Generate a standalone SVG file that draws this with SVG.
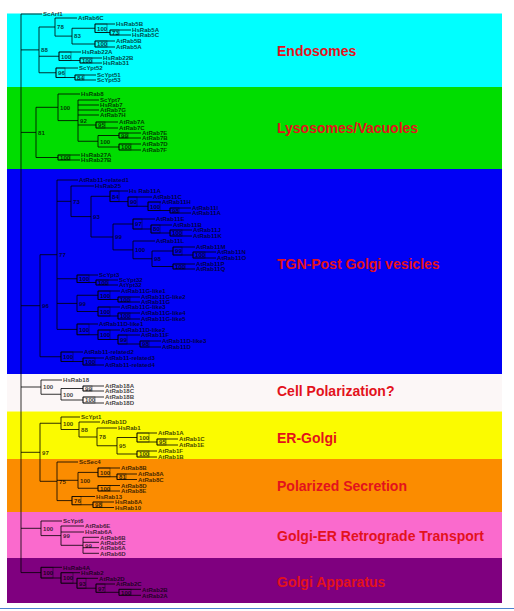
<svg xmlns="http://www.w3.org/2000/svg" width="514" height="611" viewBox="0 0 514 611">
<style>
.ln{fill:none;stroke:#000;stroke-opacity:0.8;stroke-width:1}
.bx{fill:none;stroke:#000;stroke-opacity:0.5;stroke-width:0.8}
.t{font-family:"Liberation Sans",Arial,sans-serif;font-size:6.1px;font-weight:bold;fill:#000;fill-opacity:0.75}
.b{font-family:"Liberation Sans",Arial,sans-serif;font-size:6.1px;font-weight:bold;fill:#000;fill-opacity:0.75}
.cat{font-family:"Liberation Sans",Arial,sans-serif;font-size:14px;font-weight:bold;fill:#e3121c}
</style>
<rect x="0" y="0" width="514" height="611" fill="#ffffff"/>
<g id="band-endosomes"><rect x="7" y="13.5" width="495" height="73.5" fill="#00ffff"/><text class="cat" x="277" y="56">Endosomes</text></g>
<g id="band-lysosomes"><rect x="7" y="87" width="495" height="82" fill="#00dd00"/><text class="cat" x="277" y="133">Lysosomes/Vacuoles</text></g>
<g id="band-tgn"><rect x="7" y="169" width="495" height="205" fill="#0000f5"/><text class="cat" x="277" y="269">TGN-Post Golgi vesicles</text></g>
<g id="band-polarization"><rect x="7" y="374" width="495" height="37.5" fill="#fcf7f7"/><text class="cat" x="277" y="396">Cell Polarization?</text></g>
<g id="band-ergolgi"><rect x="7" y="411.5" width="495" height="47.5" fill="#fbfb00"/><text class="cat" x="277" y="443">ER-Golgi</text></g>
<g id="band-secretion"><rect x="7" y="459" width="495" height="53" fill="#fb8c00"/><text class="cat" x="277" y="491">Polarized Secretion</text></g>
<g id="band-retrograde"><rect x="7" y="512" width="495" height="46" fill="#fa6acd"/><text class="cat" x="277" y="541">Golgi-ER Retrograde Transport</text></g>
<g id="band-golgi"><rect x="7" y="558" width="495" height="45" fill="#7f007f"/><text class="cat" x="277" y="587">Golgi Apparatus</text></g>
<line x1="0" y1="608.5" x2="514" y2="608.5" stroke="#4a7fd0" stroke-width="1"/>

<g id="connectors">
<path class="ln" d="M21 14V572.6M21 14H42M21 49.9H39M39 27V72.75M39 27H55M55 18V36.1M55 18H77M55 36.1H72M72 28.25V44M72 28.25H95M95 24V32.5M95 24H115M95 32.5H110M110 30V35M110 30H131M110 35H131M72 44H95M95 41V47M95 41H115M95 47H115M39 56.25H59M59 52V60.5M59 52H81M59 60.5H80M80 58V63M80 58H102M80 63H102M39 72.75H56M56 68V77.5M56 68H78M56 77.5H75M75 75V80M75 75H96M75 80H96"/>
<path class="ln" d="M21 132.4H36M36 107.3V157.5M36 107.3H58M58 94V120.6M58 94H80M58 120.6H78M78 100V141.25M78 100H99M78 105H99M78 110H99M78 115H99M78 125H96M96 122V128M96 122H118M96 128H118M78 141.25H98M98 135.5V147M98 135.5H119M119 133V138M119 133H141M119 138H141M98 147H119M119 144V150M119 144H141M119 150H141M36 157.5H58M58 155V160M58 155H80M58 160H80"/>
<path class="ln" d="M21 305.7H40M40 254.7V356.75M40 254.7H57M57 180V329.4M57 180H78M57 201.3H71M71 186V216.6M71 186H94M71 216.6H91M91 196.3V237M91 196.3H110M110 191V201.6M110 191H128M110 201.6H128M128 197V206.25M128 197H152M128 206.25H148M148 202V210.5M148 202H161M148 210.5H170M170 208V213M170 208H191M170 213H191M91 237H113M113 224V249.9M113 224H133M133 219V229M133 219H155M133 229H151M151 225V233M151 225H172M151 233H170M170 230V236M170 230H192M170 236H192M113 249.9H133M133 241V258.75M133 241H155M133 258.75H152M152 251V266.5M152 251H173M173 247V255M173 247H195M173 255H193M193 252V258M193 252H216M193 258H216M152 266.5H173M173 264V269M173 264H195M173 269H195M57 278.75H77M77 275V282.5M77 275H98M77 282.5H96M96 280V285M96 280H118M96 285H118M57 303.4H77M77 295.25V311.5M77 295.25H98M98 291V299.5M98 291H120M98 299.5H118M118 297V302M118 297H140M118 302H140M77 311.5H98M98 307V316M98 307H120M98 316H118M118 313V319M118 313H140M118 319H140M57 329.4H77M77 324V334.75M77 324H98M77 334.75H98M98 330V339.5M98 330H120M98 339.5H118M118 335V344M118 335H140M118 344H140M140 341V347M140 341H161M140 347H161M40 356.75H61M61 352V361.5M61 352H83M61 361.5H83M83 358V365M83 358H104M83 365H104"/>
<path class="ln" d="M21 387H41M41 380V394.25M41 380H62M41 394.25H61M61 388.5V400M61 388.5H83M83 386V391M83 386H104M83 391H104M61 400H83M83 397V403M83 397H104M83 403H104"/>
<path class="ln" d="M21 452.3H40M40 423.25V481.3M40 423.25H61M61 417V429.5M61 417H80M61 429.5H79M79 422V437M79 422H100M79 437H97M97 428V445.75M97 428H117M97 445.75H117M117 437.5V454M117 437.5H137M137 433V442M137 433H157M137 442H157M157 439V445M157 439H178M157 445H178M117 454H137M137 451V457M137 451H157M137 457H157"/>
<path class="ln" d="M40 481.3H57M57 462V500.6M57 462H78M57 480.3H78M78 472.4V488.25M78 472.4H98M98 468V476.75M98 468H120M98 476.75H117M117 474V479.5M117 474H137M117 479.5H137M78 488.25H98M98 485.5V491M98 485.5H120M98 491H120M57 500.6H72M72 496.5V504.75M72 496.5H95M72 504.75H93M93 502V507.5M93 502H114M93 507.5H114"/>
<path class="ln" d="M21 528.3H41M41 521V535.6M41 521H62M41 535.6H61M61 526V545.3M61 526H84M61 532H84M61 545.3H83M83 537.3V553.3M83 537.3H99M83 542.3H99M83 547.7H99M83 553.3H99"/>
<path class="ln" d="M21 572.6H41M41 567.3V578M41 567.3H62M41 578H61M61 572.7V583.2M61 572.7H80M61 583.2H77M77 578.3V588.2M77 578.3H98M77 588.2H96M96 584V592.3M96 584H115M96 592.3H119M119 589.3V595.3M119 589.3H141M119 595.3H141"/>
<g id="support-boxes">
<rect class="bx" x="95" y="24" width="12" height="8.5"/><rect class="bx" x="110" y="30" width="9" height="5"/><rect class="bx" x="95" y="41" width="12" height="6"/><rect class="bx" x="59" y="52" width="12" height="8.5"/><rect class="bx" x="80" y="58" width="12" height="5"/><rect class="bx" x="56" y="68" width="9" height="9.5"/><rect class="bx" x="75" y="75" width="9" height="5"/>
<rect class="bx" x="96" y="122" width="9" height="6"/><rect class="bx" x="119" y="133" width="9" height="5"/><rect class="bx" x="119" y="144" width="12" height="6"/><rect class="bx" x="58" y="155" width="12" height="5"/>
<rect class="bx" x="110" y="191" width="9" height="10.6"/><rect class="bx" x="128" y="197" width="9" height="9.25"/><rect class="bx" x="148" y="202" width="12" height="8.5"/><rect class="bx" x="170" y="208" width="9" height="5"/><rect class="bx" x="133" y="219" width="9" height="10"/><rect class="bx" x="151" y="225" width="9" height="8"/><rect class="bx" x="170" y="230" width="12" height="6"/><rect class="bx" x="173" y="247" width="9" height="8"/><rect class="bx" x="193" y="252" width="12" height="6"/><rect class="bx" x="173" y="264" width="12" height="5"/><rect class="bx" x="77" y="275" width="12" height="7.5"/><rect class="bx" x="96" y="280" width="12" height="5"/><rect class="bx" x="98" y="291" width="12" height="8.5"/><rect class="bx" x="118" y="297" width="12" height="5"/><rect class="bx" x="98" y="307" width="12" height="9"/><rect class="bx" x="118" y="313" width="12" height="6"/><rect class="bx" x="77" y="324" width="12" height="10.75"/><rect class="bx" x="98" y="330" width="12" height="9.5"/><rect class="bx" x="118" y="335" width="9" height="9"/><rect class="bx" x="140" y="341" width="9" height="6"/><rect class="bx" x="61" y="352" width="12" height="9.5"/><rect class="bx" x="83" y="358" width="12" height="7"/>
<rect class="bx" x="83" y="386" width="9" height="5"/><rect class="bx" x="83" y="397" width="12" height="6"/>
<rect class="bx" x="137" y="433" width="12" height="9"/><rect class="bx" x="157" y="439" width="9" height="6"/><rect class="bx" x="137" y="451" width="12" height="6"/>
<rect class="bx" x="98" y="468" width="12" height="8.75"/><rect class="bx" x="117" y="474" width="9" height="5.5"/><rect class="bx" x="98" y="485.5" width="12" height="5.5"/><rect class="bx" x="72" y="496.5" width="9" height="8.25"/><rect class="bx" x="93" y="502" width="9" height="5.5"/>
<rect class="bx" x="41" y="567.3" width="12" height="10.7"/><rect class="bx" x="61" y="572.7" width="12" height="10.5"/><rect class="bx" x="77" y="578.3" width="9" height="9.9"/><rect class="bx" x="96" y="584" width="9" height="8.3"/><rect class="bx" x="119" y="589.3" width="12" height="6"/>
</g>
</g>

<g id="support-values">
<text class="b" x="41" y="52.2">88</text><text class="b" x="57" y="29.3">78</text><text class="b" x="74" y="38.4">83</text><text class="b" x="97" y="30.6">100</text><text class="b" x="112" y="34.8">73</text><text class="b" x="97" y="46.3">100</text><text class="b" x="61" y="58.6">100</text><text class="b" x="82" y="62.8">100</text><text class="b" x="58" y="75">96</text><text class="b" x="77" y="79.8">84</text>
<text class="b" x="38" y="134.7">81</text><text class="b" x="60" y="109.6">100</text><text class="b" x="80" y="122.9">92</text><text class="b" x="98" y="127.3">95</text><text class="b" x="100" y="143.5">100</text><text class="b" x="121" y="138">99</text><text class="b" x="121" y="149.3">100</text><text class="b" x="60" y="159.8">100</text>
<text class="b" x="42" y="308">96</text><text class="b" x="59" y="257">77</text><text class="b" x="73" y="203.6">73</text><text class="b" x="93" y="218.9">93</text><text class="b" x="112" y="198.6">84</text><text class="b" x="130" y="203.9">90</text><text class="b" x="150" y="208.6">100</text><text class="b" x="172" y="213">98</text><text class="b" x="115" y="239.3">99</text><text class="b" x="135" y="226.3">97</text><text class="b" x="153" y="231.3">80</text><text class="b" x="172" y="235.3">100</text><text class="b" x="135" y="252.2">100</text><text class="b" x="154" y="261">98</text><text class="b" x="175" y="253.3">99</text><text class="b" x="195" y="257.3">100</text><text class="b" x="175" y="268.8">100</text><text class="b" x="79" y="281">100</text><text class="b" x="98" y="284.8">100</text><text class="b" x="79" y="305.7">99</text><text class="b" x="100" y="297.5">100</text><text class="b" x="120" y="301.8">100</text><text class="b" x="100" y="313.8">100</text><text class="b" x="120" y="318.3">100</text><text class="b" x="79" y="331.7">100</text><text class="b" x="100" y="337">100</text><text class="b" x="120" y="341.8">99</text><text class="b" x="142" y="346.3">98</text><text class="b" x="63" y="359">100</text><text class="b" x="85" y="363.8">100</text>
<text class="b" x="43" y="389.3">100</text><text class="b" x="63" y="396.5">100</text><text class="b" x="85" y="390.8">99</text><text class="b" x="85" y="402.3">100</text>
<text class="b" x="42" y="454.6">97</text><text class="b" x="63" y="425.5">100</text><text class="b" x="81" y="431.8">88</text><text class="b" x="99" y="439.3">78</text><text class="b" x="119" y="448">95</text><text class="b" x="139" y="439.8">100</text><text class="b" x="159" y="444.3">95</text><text class="b" x="139" y="456.3">100</text>
<text class="b" x="59" y="483.6">75</text><text class="b" x="80" y="482.6">100</text><text class="b" x="100" y="474.7">100</text><text class="b" x="119" y="479">81</text><text class="b" x="100" y="490.5">100</text><text class="b" x="74" y="502.9">76</text><text class="b" x="95" y="507">98</text>
<text class="b" x="43" y="530.6">100</text><text class="b" x="63" y="537.9">99</text><text class="b" x="85" y="547.6">99</text>
<text class="b" x="43" y="574.9">100</text><text class="b" x="63" y="580.3">100</text><text class="b" x="79" y="585.5">93</text><text class="b" x="98" y="590.5">97</text><text class="b" x="121" y="594.6">100</text>
</g>

<g id="leaf-ScArf1"><text class="t" x="43" y="16.3">ScArf1</text></g>
<g id="leaf-AtRab6C-a"><text class="t" x="78" y="20.3">AtRab6C</text></g>
<g id="leaf-HsRab5B"><text class="t" x="116" y="26.3">HsRab5B</text></g>
<g id="leaf-HsRab5A"><text class="t" x="132" y="32.3">HsRab5A</text></g>
<g id="leaf-HsRab5C"><text class="t" x="132" y="37.3">HsRab5C</text></g>
<g id="leaf-AtRab5B"><text class="t" x="116" y="43.3">AtRab5B</text></g>
<g id="leaf-AtRab5A"><text class="t" x="116" y="49.3">AtRab5A</text></g>
<g id="leaf-HsRab22A"><text class="t" x="82" y="54.3">HsRab22A</text></g>
<g id="leaf-HsRab22B"><text class="t" x="103" y="60.3">HsRab22B</text></g>
<g id="leaf-HsRab31"><text class="t" x="103" y="65.3">HsRab31</text></g>
<g id="leaf-ScYpt52"><text class="t" x="79" y="70.3">ScYpt52</text></g>
<g id="leaf-ScYpt51"><text class="t" x="97" y="77.3">ScYpt51</text></g>
<g id="leaf-ScYpt53"><text class="t" x="97" y="82.3">ScYpt53</text></g>

<g id="leaf-HsRab8"><text class="t" x="81" y="96.3">HsRab8</text></g>
<g id="leaf-ScYpt7"><text class="t" x="100" y="102.3">ScYpt7</text></g>
<g id="leaf-HsRab7"><text class="t" x="100" y="107.3">HsRab7</text></g>
<g id="leaf-AtRab7G"><text class="t" x="100" y="112.3">AtRab7G</text></g>
<g id="leaf-AtRab7H"><text class="t" x="100" y="117.3">AtRab7H</text></g>
<g id="leaf-AtRab7A"><text class="t" x="119" y="124.3">AtRab7A</text></g>
<g id="leaf-AtRab7C"><text class="t" x="119" y="130.3">AtRab7C</text></g>
<g id="leaf-AtRab7E"><text class="t" x="142" y="135.3">AtRab7E</text></g>
<g id="leaf-AtRab7B"><text class="t" x="142" y="140.3">AtRab7B</text></g>
<g id="leaf-AtRab7D"><text class="t" x="142" y="146.3">AtRab7D</text></g>
<g id="leaf-AtRab7F"><text class="t" x="142" y="152.3">AtRab7F</text></g>
<g id="leaf-HsRab27A"><text class="t" x="81" y="157.3">HsRab27A</text></g>
<g id="leaf-HsRab27B"><text class="t" x="81" y="162.3">HsRab27B</text></g>

<g id="leaf-AtRab11-related1"><text class="t" x="79" y="182.3">AtRab11-related1</text></g>
<g id="leaf-HsRab25"><text class="t" x="95" y="188.3">HsRab25</text></g>
<g id="leaf-HsRab11A"><text class="t" x="129" y="193.3">Hs Rab11A</text></g>
<g id="leaf-AtRab11C"><text class="t" x="153" y="199.3">AtRab11C</text></g>
<g id="leaf-AtRab11H"><text class="t" x="162" y="204.3">AtRab11H</text></g>
<g id="leaf-AtRab11I"><text class="t" x="192" y="210.3">AtRab11I</text></g>
<g id="leaf-AtRab11A"><text class="t" x="192" y="215.3">AtRab11A</text></g>
<g id="leaf-AtRab11E"><text class="t" x="156" y="221.3">AtRab11E</text></g>
<g id="leaf-AtRab11B"><text class="t" x="173" y="227.3">AtRab11B</text></g>
<g id="leaf-AtRab11J"><text class="t" x="193" y="232.3">AtRab11J</text></g>
<g id="leaf-AtRab11K"><text class="t" x="193" y="238.3">AtRab11K</text></g>
<g id="leaf-AtRab11L"><text class="t" x="156" y="243.3">AtRab11L</text></g>
<g id="leaf-AtRab11M"><text class="t" x="196" y="249.3">AtRab11M</text></g>
<g id="leaf-AtRab11N"><text class="t" x="217" y="254.3">AtRab11N</text></g>
<g id="leaf-AtRab11O"><text class="t" x="217" y="260.3">AtRab11O</text></g>
<g id="leaf-AtRab11P"><text class="t" x="196" y="266.3">AtRab11P</text></g>
<g id="leaf-AtRab11Q"><text class="t" x="196" y="271.3">AtRab11Q</text></g>
<g id="leaf-ScYpt3"><text class="t" x="99" y="277.3">ScYpt3</text></g>
<g id="leaf-ScYpt32"><text class="t" x="119" y="282.3">ScYpt32</text></g>
<g id="leaf-AtYpt32"><text class="t" x="119" y="287.3">AtYpt32</text></g>
<g id="leaf-AtRab11G-like1"><text class="t" x="121" y="293.3">AtRab11G-like1</text></g>
<g id="leaf-AtRab11G-like2"><text class="t" x="141" y="299.3">AtRab11G-like2</text></g>
<g id="leaf-AtRab11G"><text class="t" x="141" y="304.3">AtRab11G</text></g>
<g id="leaf-AtRab11G-like3"><text class="t" x="121" y="309.3">AtRab11G-like3</text></g>
<g id="leaf-AtRab11G-like4"><text class="t" x="141" y="315.3">AtRab11G-like4</text></g>
<g id="leaf-AtRab11G-like5"><text class="t" x="141" y="321.3">AtRab11G-like5</text></g>
<g id="leaf-AtRab11D-like1"><text class="t" x="99" y="326.3">AtRab11D-like1</text></g>
<g id="leaf-AtRab11D-like2"><text class="t" x="121" y="332.3">AtRab11D-like2</text></g>
<g id="leaf-AtRab11F"><text class="t" x="141" y="337.3">AtRab11F</text></g>
<g id="leaf-AtRab11D-like3"><text class="t" x="162" y="343.3">AtRab11D-like3</text></g>
<g id="leaf-AtRab11D"><text class="t" x="162" y="349.3">AtRab11D</text></g>
<g id="leaf-AtRab11-related2"><text class="t" x="84" y="354.3">AtRab11-related2</text></g>
<g id="leaf-AtRab11-related3"><text class="t" x="105" y="360.3">AtRab11-related3</text></g>
<g id="leaf-AtRab11-related4"><text class="t" x="105" y="367.3">AtRab11-related4</text></g>

<g id="leaf-HsRab18"><text class="t" x="63" y="382.3">HsRab18</text></g>
<g id="leaf-AtRab18A"><text class="t" x="105" y="388.3">AtRab18A</text></g>
<g id="leaf-AtRab18C"><text class="t" x="105" y="393.3">AtRab18C</text></g>
<g id="leaf-AtRab18B"><text class="t" x="105" y="399.3">AtRab18B</text></g>
<g id="leaf-AtRab18D"><text class="t" x="105" y="405.3">AtRab18D</text></g>

<g id="leaf-ScYpt1"><text class="t" x="81" y="419.3">ScYpt1</text></g>
<g id="leaf-AtRab1D"><text class="t" x="101" y="424.3">AtRab1D</text></g>
<g id="leaf-HsRab1"><text class="t" x="118" y="430.3">HsRab1</text></g>
<g id="leaf-AtRab1A"><text class="t" x="158" y="435.3">AtRab1A</text></g>
<g id="leaf-AtRab1C"><text class="t" x="179" y="441.3">AtRab1C</text></g>
<g id="leaf-AtRab1E"><text class="t" x="179" y="447.3">AtRab1E</text></g>
<g id="leaf-AtRab1F"><text class="t" x="158" y="453.3">AtRab1F</text></g>
<g id="leaf-AtRab1B"><text class="t" x="158" y="459.3">AtRab1B</text></g>

<g id="leaf-ScSec4"><text class="t" x="79" y="464.3">ScSec4</text></g>
<g id="leaf-AtRab8B"><text class="t" x="121" y="470.3">AtRab8B</text></g>
<g id="leaf-AtRab8A"><text class="t" x="138" y="476.3">AtRab8A</text></g>
<g id="leaf-AtRab8C"><text class="t" x="138" y="481.8">AtRab8C</text></g>
<g id="leaf-AtRab8D"><text class="t" x="121" y="487.8">AtRab8D</text></g>
<g id="leaf-AtRab8E"><text class="t" x="121" y="493.3">AtRab8E</text></g>
<g id="leaf-HsRab13"><text class="t" x="96" y="498.8">HsRab13</text></g>
<g id="leaf-HsRab8A"><text class="t" x="115" y="504.3">HsRab8A</text></g>
<g id="leaf-HsRab10"><text class="t" x="115" y="509.8">HsRab10</text></g>

<g id="leaf-ScYpt6"><text class="t" x="63" y="523.3">ScYpt6</text></g>
<g id="leaf-AtRab6E"><text class="t" x="85" y="528.3">AtRab6E</text></g>
<g id="leaf-HsRab6A"><text class="t" x="85" y="534.3">HsRab6A</text></g>
<g id="leaf-AtRab6B"><text class="t" x="100" y="539.6">AtRab6B</text></g>
<g id="leaf-AtRab6C-b"><text class="t" x="100" y="544.6">AtRab6C</text></g>
<g id="leaf-AtRab6A"><text class="t" x="100" y="550">AtRab6A</text></g>
<g id="leaf-AtRab6D"><text class="t" x="100" y="555.6">AtRab6D</text></g>

<g id="leaf-HsRab4A"><text class="t" x="63" y="569.6">HsRab4A</text></g>
<g id="leaf-HsRab2"><text class="t" x="81" y="575">HsRab2</text></g>
<g id="leaf-AtRab2D"><text class="t" x="99" y="580.6">AtRab2D</text></g>
<g id="leaf-AtRab2C"><text class="t" x="116" y="586.3">AtRab2C</text></g>
<g id="leaf-AtRab2B"><text class="t" x="142" y="591.6">AtRab2B</text></g>
<g id="leaf-AtRab2A"><text class="t" x="142" y="597.6">AtRab2A</text></g>
</svg>
